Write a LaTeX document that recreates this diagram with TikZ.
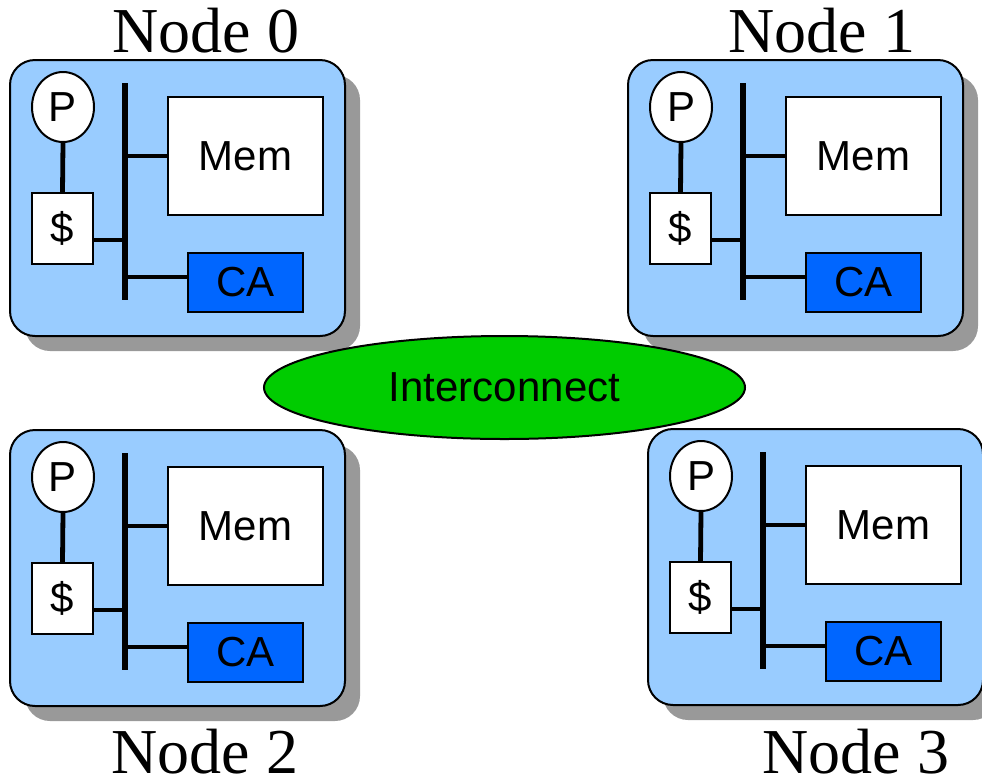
\documentclass[tikz,border=0pt]{standalone}
\usepackage{fontspec}
\setmainfont{Liberation Serif}
\newfontfamily\labelsans{Liberation Sans}
\usetikzlibrary{shapes.geometric,calc}
\definecolor{nodeblue}{HTML}{99CCFF}
\definecolor{cablue}{HTML}{0066FF}
\definecolor{netgreen}{HTML}{00CC00}
\definecolor{shadowgray}{HTML}{999999}
\tikzset{
  unitfont/.style={font=\labelsans\fontsize{42}{50}\selectfont},
  nodebox/.style={draw=black, line width=2pt, fill=nodeblue, rounded corners=25pt,
    minimum width=335pt, minimum height=276pt, inner sep=0pt},
  nodeshadow/.style={fill=shadowgray, rounded corners=25pt,
    minimum width=335pt, minimum height=276pt, inner sep=0pt},
  procunit/.style={ellipse, draw=black, line width=2pt, fill=white, unitfont,
    minimum width=62pt, minimum height=70pt, inner sep=0pt},
  cacheunit/.style={draw=black, line width=2pt, fill=white, unitfont,
    minimum width=61pt, minimum height=71pt, inner sep=0pt},
  memunit/.style={draw=black, line width=2pt, fill=white, unitfont,
    minimum width=155pt, minimum height=118pt, inner sep=0pt},
  caunit/.style={draw=black, line width=2pt, fill=cablue, unitfont,
    minimum width=115pt, minimum height=59pt, inner sep=0pt},
  busline/.style={line width=6pt},
  link/.style={line width=4.8pt},
  nodetitle/.style={anchor=base, font=\fontsize{64}{72}\selectfont, inner sep=0pt},
}
\begin{document}
\begin{tikzpicture}[x=1pt, y=-1pt]
  \useasboundingbox (0,0) rectangle (982,780);
  \clip (0,0) rectangle (982,780);
  % four processing nodes: index / x offset / y offset
  \foreach \i/\dx/\dy in {0/0/0, 1/618/0, 2/0/370, 3/638/369} {
    \begin{scope}[shift={(\dx,\dy)}]
      \node[nodeshadow] (sh\i) at (192.5,213) {};
      \node[nodebox] (box\i) at (177.5,198) {};
      \node[procunit] (p\i) at (63,107) {P};
      \node[cacheunit] (c\i) at (62.5,228.5) {\$};
      \node[memunit] (m\i) at (245.5,156) {Mem};
      \node[caunit] (ca\i) at (245.5,282.5) {CA};
      \coordinate (bt\i) at (125,83);
      \coordinate (bb\i) at (125,300);
      \draw[busline] (bt\i) -- (bb\i);
      \draw[link] (p\i.south) -- (c\i.north);
      \draw[link] ([yshift=-11.5pt]c\i.east) -- ([yshift=-11.5pt]c\i.east -| bt\i);
      \draw[link] (m\i.west) -- (m\i.west -| bt\i);
      \draw[link] ([yshift=5.5pt]ca\i.west) -- ([yshift=5.5pt]ca\i.west -| bt\i);
    \end{scope}
  }
  % interconnection network
  \node[ellipse, draw=black, line width=2pt, fill=netgreen, unitfont,
        minimum width=481pt, minimum height=103pt, inner sep=0pt] (net) at (504.5,387.5) {Interconnect};
  % node titles
  \node[nodetitle] (t0) at (206,52) {Node 0};
  \node[nodetitle] (t1) at (822,52) {Node 1};
  \node[nodetitle] (t2) at (205,773) {Node 2};
  \node[nodetitle] (t3) at (856,773) {Node 3};
\end{tikzpicture}
\end{document}
